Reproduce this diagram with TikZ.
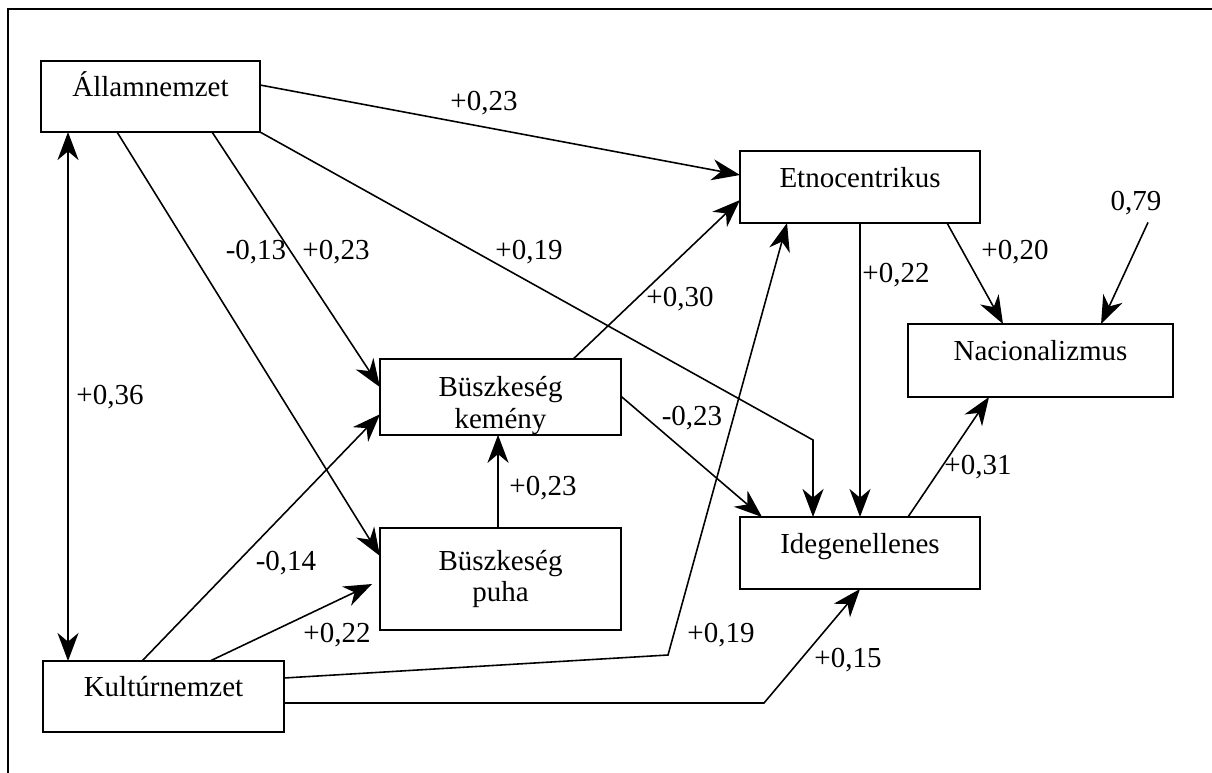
\documentclass[tikz,border=0pt]{standalone}
\usepackage{fontspec}
\setmainfont{Liberation Serif}
\usetikzlibrary{arrows.meta, calc}

\begin{document}
\begin{tikzpicture}[x=0.02cm, y=-0.02cm, line width=0.9pt,
        font=\fontsize{16.5}{18}\selectfont,
        >={Stealth[length=16pt,width=12pt,inset=5pt]},
        box/.style={draw, inner sep=0pt, outer sep=0pt, align=center},
        onebox/.style={box, text height=0.6em, text depth=0.55em},
        lbl/.style={inner sep=1pt}]

        \useasboundingbox (0,0) rectangle (1212,773);

        % Frame (only top and left edge)
        \draw [line width=1.1pt] (8,773) -- (8,9) -- (1212,9);

        % Factors
        \node [onebox, minimum width=4.38cm, minimum height=1.42cm] (allam) at (150.5,96.5) {Államnemzet};
        \node [onebox, minimum width=4.82cm, minimum height=1.42cm] (kultur) at (163.5,696.5) {Kultúrnemzet};
        \node [onebox, minimum width=4.8cm, minimum height=1.44cm] (etno) at (860,187) {Etnocentrikus};
        \node [box, minimum width=4.82cm, minimum height=1.48cm] (kemeny) at (500.5,397) {\rule{0pt}{1.3em}Büszkeség\\kemény};
        \node [box, minimum width=4.82cm, minimum height=2.04cm] (puha) at (500.5,579) {Büszkeség\\puha};
        \node [onebox, minimum width=4.8cm, minimum height=1.44cm] (idegen) at (860,553) {Idegenellenes};
        \node [onebox, minimum width=5.3cm, minimum height=1.46cm] (nac) at (1040.5,360.5) {Nacionalizmus};

        % Bends
        \coordinate (knee1) at (668,655);
        \coordinate (knee2) at (764,703);
        \coordinate (knee3) at (813,440);

        % Paths from Államnemzet
        \draw [->] ($(allam.north east)+(0,24)$) -- ($(etno.north west)+(0,24)$);
        \draw [->] ($(allam.south west)+(171,0)$) -- ($(kemeny.north west)+(0,28)$);
        \draw [->] ($(allam.south west)+(76,0)$) -- ($(puha.north west)+(0,28)$);
        \draw [->] (allam.south east) -- (knee3) -- ($(idegen.north west)+(73,0)$);
        \draw [<->] ($(allam.south west)+(27,0)$) -- ($(kultur.north west)+(25,0)$);

        % Paths from Kultúrnemzet
        \draw [->] ($(kultur.north west)+(99,0)$) -- ($(kemeny.north west)+(0,55)$);
        \draw [->] ($(kultur.north west)+(167,0)$) -- ($(puha.north west)+(-8,56)$);
        \draw [->] ($(kultur.north east)+(0,17)$) -- (knee1) -- ($(etno.south west)+(47,0)$);
        \draw [->] ($(kultur.north east)+(0,42)$) -- (knee2) -- (idegen.south);

        % Paths between the others
        \draw [->] ($(puha.north west)+(118,0)$) -- ($(kemeny.south west)+(118,0)$);
        \draw [->] ($(kemeny.north west)+(193,0)$) -- ($(etno.north west)+(0,49)$);
        \draw [->] ($(kemeny.north east)+(0,37)$) -- ($(idegen.north west)+(22,0)$);
        \draw [->] (etno.south) -- (idegen.north);
        \draw [->] ($(etno.south west)+(207,0)$) -- ($(nac.north west)+(95,0)$);
        \draw [->] ($(idegen.north east)+(-72,0)$) -- ($(nac.south west)+(81,0)$);

        % Residual
        \node [lbl] (e79) at (1136,203) {0,79};
        \draw [->] ($(e79.south)+(12,5)$) -- ($(nac.north west)+(193,0)$);

        % Coefficients
        \node [lbl] (c1) at (484,103) {+0,23};
        \node [lbl] (c2) at (110,397) {+0,36};
        \node [lbl] (c3) at (256,252) {-0,13};
        \node [lbl] (c4) at (336,252) {+0,23};
        \node [lbl] (c5) at (529,252) {+0,19};
        \node [lbl] (c6) at (680,299) {+0,30};
        \node [lbl] (c7) at (692,418) {-0,23};
        \node [lbl] (c8) at (896,275) {+0,22};
        \node [lbl] (c9) at (1015,252) {+0,20};
        \node [lbl] (c10) at (286,563) {-0,14};
        \node [lbl] (c11) at (337,635) {+0,22};
        \node [lbl] (c12) at (543,488) {+0,23};
        \node [lbl] (c13) at (721,635) {+0,19};
        \node [lbl] (c14) at (848,660) {+0,15};
        \node [lbl] (c15) at (978,467) {+0,31};

\end{tikzpicture}
\end{document}
